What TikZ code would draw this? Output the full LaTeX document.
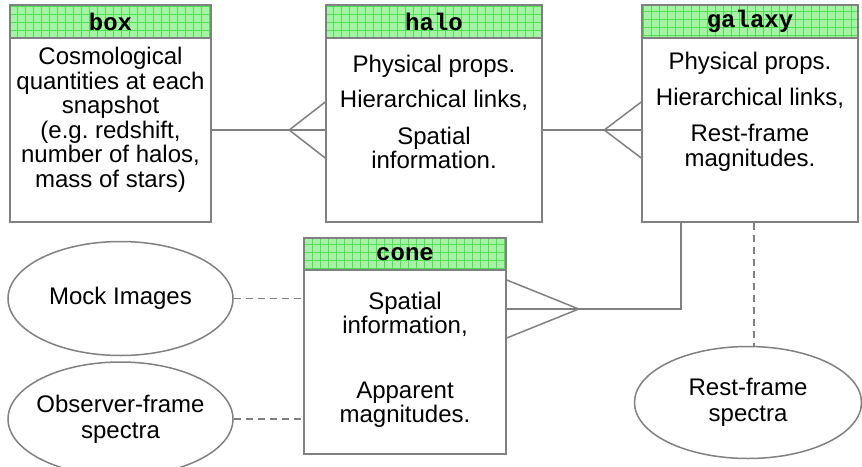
\documentclass[tikz,border=0pt]{standalone}
\usepackage{fontspec}
\setmainfont{Liberation Sans}
\newfontfamily\hdrfont{Liberation Mono}
\usetikzlibrary{shapes.geometric,calc}
\frenchspacing
\definecolor{linegray}{HTML}{808080}
\definecolor{hdrfill}{HTML}{A6F2A6}
\definecolor{hdrgrid}{HTML}{4FE04F}
\tikzset{
  entity/.style={draw=linegray, line width=1.5pt, fill=white, rectangle, inner sep=0pt},
  header/.style={draw=linegray, line width=1.5pt, fill=hdrfill, rectangle, inner sep=0pt,
    font=\hdrfont\bfseries\fontsize{24}{24}\selectfont, anchor=north,
    path picture={\draw[hdrgrid, line width=0.6pt, step=8pt] (path picture bounding box.south west) grid (path picture bounding box.north east);}},
  bodytext/.style={align=center, font=\frenchspacing\fontsize{24}{24.5}\selectfont, inner sep=0pt},
  oval/.style={draw=linegray, line width=1.5pt, ellipse, inner sep=0pt},
  ovaltext/.style={align=center, inner sep=0pt, font=\fontsize{24}{26}\selectfont},
  conn/.style={draw=linegray, line width=1.5pt},
  dconn/.style={draw=linegray, line width=1.6pt, dash pattern=on 7pt off 5pt},
}
\begin{document}
\begin{tikzpicture}[x=1pt, y=-1pt]
\useasboundingbox (0,0) rectangle (862,466);
% entities
\node[entity, minimum width=201pt, minimum height=217pt] (box) at (110.5,113.5) {};
\node[header, minimum width=201pt, minimum height=33pt] (boxh) at (box.north) {box};
\node[bodytext] (boxt) at (110.5,120) {Cosmological\\quantities at each\\snapshot\\(e.g.\ redshift,\\number of halos,\\mass of stars)};

\node[entity, minimum width=216pt, minimum height=217pt] (halo) at (434,113.5) {};
\node[header, minimum width=216pt, minimum height=33pt] (haloh) at (halo.north) {halo};
\node[bodytext] (halot) at (434,112) {Physical props.\\[11pt]Hierarchical links,\\[12pt]Spatial\\information.};

\node[entity, minimum width=216pt, minimum height=217pt] (galaxy) at (750,113.5) {};
\node[header, minimum width=216pt, minimum height=33pt] (galaxyh) at (galaxy.north) {galaxy};
\node[bodytext] (galaxyt) at (750,112) {Physical props.\\[11pt]Hierarchical links,\\[12pt]Rest-frame\\magnitudes.};

\node[entity, minimum width=202pt, minimum height=216pt] (cone) at (405,346) {};
\node[header, minimum width=202pt, minimum height=32pt] (coneh) at (cone.north) {cone};
\node[bodytext] (conet) at (405,360) {Spatial\\information,\\[40pt]Apparent\\magnitudes.};

% ellipses
\node[oval, minimum width=225pt, minimum height=114pt] (mock) at (120.5,298.5) {};
\node[ovaltext] (mockt) at (mock.center) {Mock Images};
\node[oval, minimum width=225pt, minimum height=114pt] (obs) at (120.5,419) {};
\node[ovaltext] (obst) at (obs.center) {Observer-frame\\spectra};
\node[oval, minimum width=227pt, minimum height=112pt] (rest) at (748,402.5) {};
\node[ovaltext] (restt) at (rest.center) {Rest-frame\\spectra};

% box -- halo (crow's foot at halo)
\coordinate (bh) at ($(box.east)+(0,16.5)$);
\coordinate (hb) at ($(halo.west)+(0,16.5)$);
\coordinate (hbapex) at ($(hb)+(-36,0)$);
\draw[conn] (bh) -- (hb);
\draw[conn] ($(hb)+(0,-28)$) -- (hbapex) -- ($(hb)+(0,28)$);

% halo -- galaxy (crow's foot at galaxy)
\coordinate (hg) at ($(halo.east)+(0,16.5)$);
\coordinate (gh) at ($(galaxy.west)+(0,16.5)$);
\coordinate (ghapex) at ($(gh)+(-37,0)$);
\draw[conn] (hg) -- (gh);
\draw[conn] ($(gh)+(0,-28)$) -- (ghapex) -- ($(gh)+(0,28)$);

% galaxy -- cone (crow's foot at cone)
\coordinate (gc) at ($(galaxy.south)+(-69,0)$);
\coordinate (cg) at ($(cone.east)+(0,-37)$);
\coordinate (cgapex) at ($(cg)+(72,0)$);
\draw[conn] (gc) |- (cg);
\draw[conn] ($(cg)+(0,-29)$) -- (cgapex) -- ($(cg)+(0,29)$);

% dashed links
\draw[dconn] (mock.east) -- (mock.east -| cone.west);
\draw[dconn] (obs.east) -- (obs.east -| cone.west);
\coordinate (gr) at ($(galaxy.south)+(4,0)$);
\draw[dconn] (gr) -- (gr |- rest.north);
\end{tikzpicture}
\end{document}
